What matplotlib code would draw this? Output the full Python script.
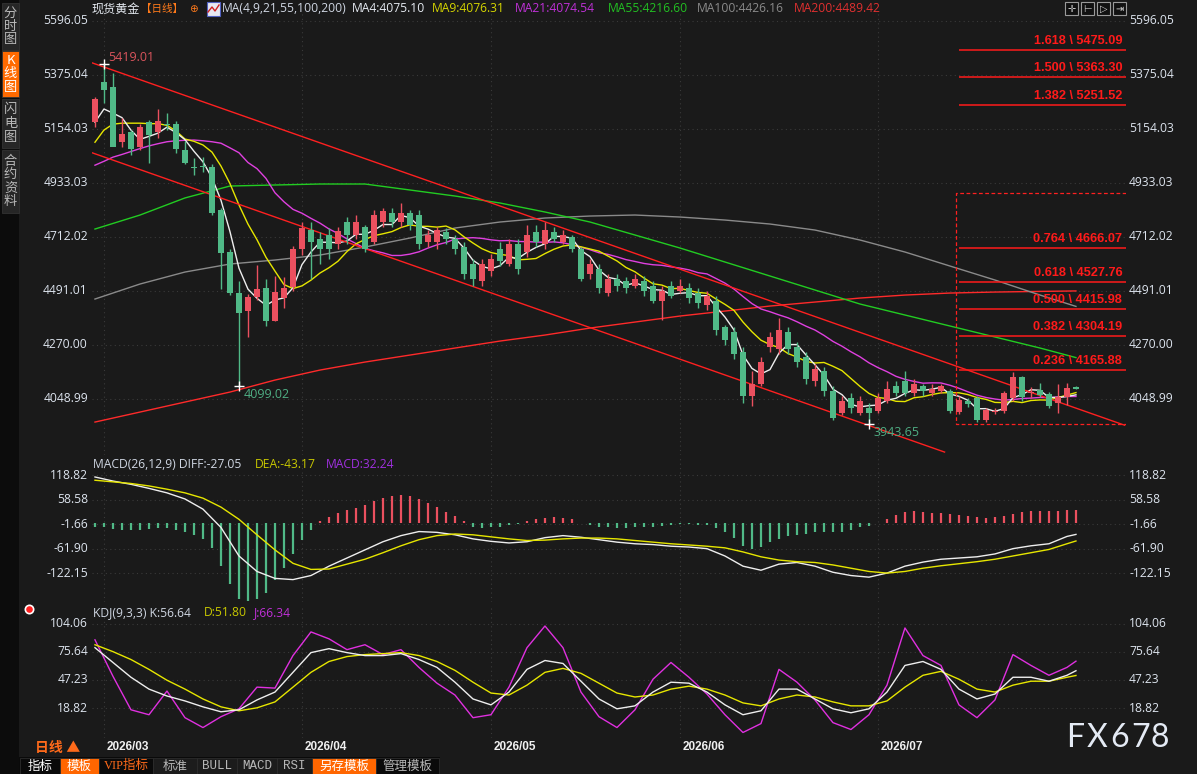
import matplotlib
matplotlib.use('Agg')
import matplotlib.pyplot as plt
import numpy as np
from matplotlib.patches import Rectangle

W, H = 1197, 774
BG = '#1a1a1a'
RED = '#eb505f'
GREEN = '#50b987'
plt.rcParams['font.family'] = ['Open Sans', 'Noto Sans CJK SC', 'DejaVu Sans']
CJK = ['Noto Sans CJK SC', 'DejaVu Sans']

# ---------------- data ----------------
opens = [5180, 5344, 5324, 5099, 5139, 5078, 5180, 5139, 5172, 5172, 5066, 4998, 4998, 4996, 4820, 4649, 4480, 4407, 4464, 4500,
         4365, 4459, 4504, 4663, 4740, 4700, 4720, 4680, 4770, 4720, 4750, 4690, 4770, 4810, 4770, 4810, 4800, 4690, 4690, 4730,
         4700, 4670, 4600, 4530, 4570, 4660, 4600, 4680, 4650, 4730, 4680, 4730, 4690, 4710, 4660, 4560, 4580, 4480, 4540, 4530,
         4510, 4530, 4510, 4450, 4510, 4490, 4500, 4480, 4430, 4450, 4340, 4320, 4240, 4060, 4110, 4260, 4250, 4320, 4260, 4220,
         4120, 4160, 4080, 3990, 4050, 3990, 4010, 4000, 4040, 4100, 4120, 4070, 4100, 4070, 4080, 4080, 3993, 4040, 4052, 3961,
         3993, 3998, 4051, 4137, 4072, 4084, 4068, 4031, 4055, 4095]
highs = [5283, 5419.01, 5380, 5197, 5147, 5172, 5189, 5233, 5217, 5184, 5102, 5033, 5037, 5008, 4830, 4660, 4529, 4476, 4594, 4537,
         4549, 4545, 4672, 4770, 4770, 4730, 4745, 4750, 4790, 4800, 4760, 4820, 4830, 4830, 4850, 4820, 4820, 4740, 4750, 4745,
         4720, 4690, 4620, 4620, 4640, 4690, 4700, 4700, 4760, 4760, 4770, 4750, 4740, 4720, 4670, 4620, 4600, 4560, 4560, 4545,
         4560, 4550, 4530, 4510, 4530, 4540, 4520, 4500, 4490, 4470, 4350, 4340, 4260, 4160, 4220, 4320, 4380, 4340, 4280, 4240,
         4190, 4180, 4100, 4060, 4070, 4060, 4030, 4070, 4120, 4120, 4160, 4130, 4110, 4110, 4110, 4090, 4060, 4050, 4060, 4010,
         4010, 4080, 4157, 4140, 4096, 4113, 4075, 4109, 4113, 4100]
lows = [5160, 5258, 5096, 5078, 5045, 5066, 5012, 5115, 5147, 5053, 5008, 4963, 4975, 4800, 4497, 4472, 4099.02, 4300, 4451, 4345,
        4365, 4418, 4490, 4635, 4540, 4600, 4620, 4660, 4680, 4700, 4650, 4680, 4750, 4750, 4750, 4740, 4660, 4670, 4660, 4680,
        4640, 4540, 4510, 4510, 4550, 4590, 4590, 4560, 4630, 4670, 4660, 4690, 4680, 4650, 4530, 4540, 4480, 4470, 4490, 4480,
        4500, 4470, 4440, 4370, 4460, 4480, 4440, 4420, 4410, 4310, 4270, 4210, 4030, 4020, 4100, 4240, 4230, 4230, 4180, 4110,
        4100, 4060, 3960, 3980, 3990, 3980, 3943.65, 3990, 4030, 4060, 4060, 4060, 4060, 4060, 4070, 3990, 3985, 4015, 3955, 3952,
        3985, 3990, 4040, 4040, 4051, 4055, 4010, 3990, 4022, 4088]
closes = [5275, 5311, 5078, 5131, 5070, 5160, 5127, 5184, 5168, 5070, 5012, 4994, 4996, 4808, 4645, 4480, 4398, 4464, 4496, 4365,
          4484, 4500, 4660, 4745, 4690, 4660, 4660, 4735, 4720, 4770, 4660, 4800, 4815, 4770, 4810, 4760, 4680, 4720, 4740, 4700,
          4660, 4560, 4540, 4600, 4620, 4610, 4680, 4580, 4720, 4690, 4740, 4700, 4720, 4660, 4540, 4600, 4500, 4540, 4510, 4500,
          4540, 4490, 4450, 4490, 4470, 4510, 4460, 4440, 4470, 4330, 4290, 4230, 4060, 4110, 4200, 4300, 4330, 4250, 4200, 4130,
          4170, 4080, 3970, 4040, 4010, 4040, 3990, 4050, 4090, 4070, 4070, 4110, 4080, 4090, 4100, 4000, 4043, 4025, 3961, 4002,
          3998, 4072, 4137, 4055, 4076, 4063, 4020, 4055, 4092, 4090]

ma4_head = [5180, 5234, 5217]
ma9_head = [5098, 5148, 5172, 5176, 5176, 5176, 5174, 5174]
ma21_head = [5004, 5020, 5037, 5048, 5060, 5072, 5083, 5092, 5100, 5104, 5106, 5107, 5104, 5100, 5094, 5075, 5055, 5015, 4990, 4950]

slow_idx = [0, 5, 10, 15, 20, 25, 30, 35, 40, 45, 50, 55, 60, 65, 70, 75, 80, 85, 90, 95, 100, 105, 109]
ma55 = [4742.8, 4800, 4870, 4918.8, 4923, 4927, 4927, 4902.5, 4877.9, 4849.3, 4812.5, 4771.5, 4718.3, 4665.1, 4607.8,
        4550.5, 4493.2, 4435.9, 4390.9, 4345.9, 4300.9, 4255.9, 4216.60]
ma100 = [4456.3, 4517.7, 4566.8, 4599.6, 4615.9, 4636.4, 4669.1, 4706, 4746.9, 4771.5, 4787.8, 4796, 4800.1, 4791.9, 4779.6,
         4763.3, 4738.7, 4697.8, 4648.7, 4591.4, 4534.1, 4472.7, 4426.16]
ma200 = [3952.8, 3993.7, 4034.7, 4075.6, 4124.7, 4165.6, 4198.4, 4227, 4255.7, 4284.3, 4308.9, 4337.5, 4362.1, 4386.7,
         4407.1, 4427.6, 4444, 4460.3, 4472.6, 4480.8, 4484.9, 4487.5, 4489.42]
ma_last = {'MA4': 4075.10, 'MA9': 4076.31, 'MA21': 4074.54, 'MA55': 4216.60, 'MA100': 4426.16, 'MA200': 4489.42}

price_ticks = [5596.05, 5375.04, 5154.03, 4933.03, 4712.02, 4491.01, 4270.00, 4048.99]
macd_ticks = [118.82, 58.58, -1.66, -61.90, -122.15]
kdj_ticks = [104.06, 75.64, 47.23, 18.82]

month_idx = [1, 23, 44, 65, 87]
month_labels = ['2026/03', '2026/04', '2026/05', '2026/06', '2026/07']

fib_ratio = [1.618, 1.500, 1.382, 0.764, 0.618, 0.500, 0.382, 0.236]
fib_price = [5475.09, 5363.30, 5251.52, 4666.07, 4527.76, 4415.98, 4304.19, 4165.88]
fib_box = (95.7, 3943.65, 4889.0)   # start index, low, high
fib_start = 96.0

chan_upper = ([-0.56, 114.4], [5426, 3940])
chan_lower = ([-0.56, 94.4], [5058, 3830])

macd_hist = [-8, -10, -14, -15, -16, -15, -14, -12, -12, -15, -20, -28, -38, -60, -105, -150, -185, -190, -185, -170,
             -140, -110, -75, -40, -15, 5, 15, 25, 32, 38, 45, 55, 62, 68, 70, 68, 60, 50, 40, 28,
             18, 5, -8, -12, -10, -8, -4, -2, 5, 10, 14, 16, 14, 10, 2, -3, -8, -10, -12, -12,
             -10, -10, -8, -6, -4, -2, -2, -3, -5, -12, -22, -35, -55, -62, -58, -45, -38, -32, -28, -25,
             -20, -20, -22, -20, -15, -10, -6, 2, 10, 20, 28, 30, 28, 26, 25, 22, 20, 18, 16, 14,
             15, 18, 24, 28, 30, 30, 30, 31, 32, 32.24]
sub_idx = list(range(0, 110, 2)) + [109]
diff = [114, 104, 96, 86, 75, 60, 35, -10, -80, -118, -135, -138, -128, -105, -85, -65,
        -45, -30, -20, -22, -28, -38, -44, -48, -45, -35, -30, -34, -40, -46, -50, -52,
        -56, -58, -62, -80, -105, -115, -100, -96, -105, -120, -128, -132, -122, -105, -95, -88,
        -85, -82, -75, -62, -55, -50, -32, -27.05]
dea = [106, 102, 98, 92, 84, 75, 62, 40, 10, -28, -65, -98, -113, -112, -100, -88,
       -72, -55, -40, -30, -26, -28, -33, -38, -42, -41, -38, -36, -36, -38, -42, -46,
       -50, -53, -56, -60, -70, -82, -90, -94, -96, -102, -110, -118, -122, -118, -110, -104,
       -99, -94, -88, -80, -72, -64, -50, -43.17]
k_line = [80, 65, 50, 38, 31, 26, 20, 15, 17, 27, 35, 55, 75, 79, 75, 72,
          72, 74, 68, 60, 45, 28, 22, 35, 58, 67, 64, 46, 28, 18, 21, 35,
          45, 44, 35, 22, 12, 16, 38, 38, 28, 18, 14, 18, 35, 62, 66, 58,
          38, 28, 33, 50, 50, 46, 52, 56.64]
d_line = [83, 76, 68, 58, 47, 38, 28, 20, 16, 19, 25, 40, 55, 66, 71, 73,
          74, 75, 72, 66, 57, 45, 34, 32, 42, 55, 59, 54, 44, 34, 30, 32,
          38, 41, 38, 32, 24, 21, 28, 32, 30, 25, 21, 21, 26, 40, 52, 56,
          48, 38, 35, 42, 46, 46, 50, 51.80]
j_line = [88, 51, 17, 12, 36, 9, -1, 10, 18, 40, 39, 72, 96, 89, 78, 83,
          73, 78, 60, 44, 32, 9, 12, 40, 80, 102, 80, 35, 10, -1, 17, 48,
          65, 50, 33, 12, -6, 3, 58, 45, 27, 4, -3, 12, 42, 100, 72, 62,
          22, 9, 27, 73, 62, 52, 60, 66.34]

# ---------------- figure ----------------
fig = plt.figure(figsize=(W / 100, H / 100), dpi=100, facecolor=BG)


def fx(px):
    return px / W


def fy(py):
    return 1 - py / H


X0, X1 = 92, 1126
n = len(closes)
idx = np.arange(n)


def panel(top, bottom):
    ax = fig.add_axes([fx(X0), fy(bottom), fx(X1) - fx(X0), fy(top) - fy(bottom)])
    ax.set_facecolor(BG)
    for s in ax.spines.values():
        s.set_visible(False)
    ax.set_xticks([])
    ax.set_yticks([])
    ax.set_xlim(-0.33, 114.56)
    return ax


axp = panel(12, 455)
axp.set_ylim(3818, 5631)
axm = panel(458, 602)
axm.set_ylim(-193, 160.6)
axk = panel(605, 738)
axk.set_ylim(-11.6, 123.3)

GRID = '#3a3a3a'
LBL = '#dde4ee'
for ax, ticks in [(axp, price_ticks), (axm, macd_ticks), (axk, kdj_ticks)]:
    for t in ticks:
        ax.axhline(t, color=GRID, lw=0.8, ls=(0, (1, 3)), zorder=0)
        ax.text(-0.004, t, f'{t:.2f}', transform=ax.get_yaxis_transform(), ha='right', va='center',
                color=LBL, fontsize=8.7)
        ax.text(1.003, t, f'{t:.2f}', transform=ax.get_yaxis_transform(), ha='left', va='center',
                color=LBL, fontsize=8.7)
    for m in month_idx:
        ax.axvline(m, color=GRID, lw=0.8, ls=(0, (1, 3)), zorder=0)

# ---- moving averages
cl = np.array(closes, dtype=float)


def rolling(vals, period, head):
    out = list(head)
    for i in range(len(head), len(vals)):
        out.append(np.mean(vals[i - period + 1:i + 1]))
    return np.array(out)


ma4 = rolling(cl, 4, ma4_head)
ma9 = rolling(cl, 9, ma9_head)
ma21 = rolling(cl, 21, ma21_head)
axp.plot(slow_idx, ma200, color='#ff2a2a', lw=1, zorder=2)
axp.plot(slow_idx, ma100, color='#8a8a8a', lw=1, zorder=2)
axp.plot(slow_idx, ma55, color='#22cc22', lw=1, zorder=2)
axp.plot(idx, ma21, color='#e040e0', lw=1, zorder=2)
axp.plot(idx, ma9, color='#e6e600', lw=1, zorder=2)
axp.plot(idx, ma4, color='#eeeeee', lw=1, zorder=2)

# ---- candles
o = np.array(opens, float)
h = np.array(highs, float)
lo = np.array(lows, float)
up = cl >= o
cols = np.where(up, RED, GREEN)
axp.vlines(idx, lo, h, colors=cols, lw=1, zorder=3)
axp.bar(idx, np.maximum(np.abs(cl - o), 4), bottom=np.minimum(o, cl), width=0.74, color=cols,
        edgecolor='none', zorder=4)

# ---- channel lines
axp.plot(*chan_upper, color='#ff2020', lw=1, zorder=2)
axp.plot(*chan_lower, color='#ff2020', lw=1, zorder=2)

# ---- extreme labels
hi_i = int(np.argmax(h))
axp.plot(hi_i, h[hi_i], marker='+', color='white', ms=7, mew=1, zorder=6)
axp.annotate(f'{h[hi_i]:.2f}', (hi_i, h[hi_i]), xytext=(4, 6), textcoords='offset pixels',
             color='#d9545c', fontsize=9, va='center', ha='left')
lo_i = int(np.argmin(lo))
lo_j = int(np.argmin(lo[:40]))
for i in (lo_j, lo_i):
    axp.plot(i, lo[i], marker='+', color='white', ms=7, mew=1, zorder=6)
    axp.annotate(f'{lo[i]:.2f}', (i, lo[i]), xytext=(5, -8), textcoords='offset pixels',
                 color='#4fae84', fontsize=9, va='center', ha='left')

# ---- fibonacci
fb_x, fb_lo, fb_hi = fib_box
axp.plot([114.6, fb_x, fb_x, 114.6], [fb_hi, fb_hi, fb_lo, fb_lo], color='#ff2020', lw=0.9,
         ls=(0, (3, 2)), zorder=2)
for r, p in zip(fib_ratio, fib_price):
    axp.hlines(p, fib_start, 114.6, color='#ff1a1a', lw=1.1, zorder=2)
    axp.annotate(f'{r:.3f} \\ {p:.2f}', (114.15, p), xytext=(0, 3), textcoords='offset pixels',
                 color='#ff1a1a', fontsize=9.2, fontweight='bold', ha='right', va='bottom',
                 family='Liberation Sans')

# ---- MACD
hist = np.array(macd_hist, float)
axm.vlines(idx, 0, hist, colors=np.where(hist >= 0, RED, GREEN), lw=1.6, zorder=2)
axm.plot(sub_idx, diff, color='#eeeeee', lw=1, zorder=3)
axm.plot(sub_idx, dea, color='#e6e600', lw=1, zorder=3)

# ---- KDJ
axk.plot(sub_idx, j_line, color='#e030e0', lw=1, zorder=3)
axk.plot(sub_idx, d_line, color='#e6e600', lw=1, zorder=3)
axk.plot(sub_idx, k_line, color='#eeeeee', lw=1, zorder=3)


# ---- legends
def seq(y, items, size=8.7):
    for x, s, c in items:
        fig.text(fx(x), fy(y), s, color=c, fontsize=size, va='center', ha='left')


seq(9, [(92, '现货黄金', '#e6ebf2'), (222, 'MA(4,9,21,55,100,200)', '#cfd6e2'),
        (352, f"MA4:{ma_last['MA4']:.2f}", '#e6ebf2'), (432, f"MA9:{ma_last['MA9']:.2f}", '#d6d600'),
        (515, f"MA21:{ma_last['MA21']:.2f}", '#c030d8'), (608, f"MA55:{ma_last['MA55']:.2f}", '#22c022'),
        (697, f"MA100:{ma_last['MA100']:.2f}", '#8a8a8a'), (794, f"MA200:{ma_last['MA200']:.2f}", '#e03030')])
fig.text(fx(141), fy(9), '【日线】', color='#ff7a1a', fontsize=7.6, va='center', ha='left', family=CJK)
fig.text(fx(193), fy(9.5), '⊕', color='#ff7a1a', fontsize=7.5, va='center', ha='center', family='DejaVu Sans')
fig.patches.append(Rectangle((fx(207), fy(16)), fx(13), 14 / H, transform=fig.transFigure,
                             facecolor='#e8e8f0', edgecolor='#5060c0', lw=0.8))
fig.lines.append(plt.Line2D([fx(208), fx(212), fx(215), fx(219)], [fy(12), fy(7), fy(11), fy(5)],
                            transform=fig.transFigure, color='#d02020', lw=1))
seq(464, [(93, 'MACD(26,12,9) DIFF:-27.05', '#cfd6e2'), (255, 'DEA:-43.17', '#c8c800'),
          (326, 'MACD:32.24', '#a030e0')])
seq(613, [(93, 'KDJ(9,3,3) K:56.64', '#cfd6e2'), (204, 'D:51.80', '#c8c800'), (254, 'J:66.34', '#c030d8')])

# top-right icons
for x in (1065, 1081, 1097, 1113):
    fig.patches.append(Rectangle((fx(x), fy(15)), fx(13), 13 / H, transform=fig.transFigure,
                                 facecolor='#111111', edgecolor='#9a9a9a', lw=0.8))
for x, g in zip((1071.5, 1087.5, 1103.5, 1119.5), ('✛', '⊢', '▷', '⇥')):
    fig.text(fx(x), fy(8.5), g, color='#d0d0d0', fontsize=7, ha='center', va='center', family='DejaVu Sans')

# ---- left sidebar
fig.patches.append(Rectangle((0, 0), fx(19), 1, transform=fig.transFigure, facecolor='#0c0c0c', edgecolor='none'))
side = [('分\n时\n图', 3, 50, '#262626', '#b8b8b8'), ('K\n线\n图', 51, 97, '#ff6a00', '#ffffff'),
        ('闪\n电\n图', 99, 148, '#262626', '#b8b8b8'), ('合\n约\n资\n料', 150, 213, '#262626', '#b8b8b8')]
for s, y0, y1, bgc, fc in side:
    fig.patches.append(Rectangle((fx(2), fy(y1)), fx(17), (y1 - y0) / H, transform=fig.transFigure,
                                 facecolor=bgc, edgecolor='#333333', lw=0.6))
    fig.text(fx(10.5), fy((y0 + y1) / 2), s, color=fc, fontsize=9.5, ha='center', va='center',
             linespacing=1.05, family=CJK)

# red dot icon
fig.lines.append(plt.Line2D([fx(29)], [fy(609)], transform=fig.transFigure, marker='o', ms=6,
                            mfc='#ff2020', mec='white', mew=1.2))

# ---- date strip & toolbar
fig.text(fx(35), fy(748), '日线 ▲', color='#ff6a1a', fontsize=10, fontweight='bold', va='center', ha='left')
for m, lab in zip(month_idx, month_labels):
    axk.text(m + 0.3, -0.068, lab, transform=axk.get_xaxis_transform(), color='#f0f0f0', fontsize=8.5,
             fontweight='bold', family='Liberation Sans', ha='left', va='center')

fig.patches.append(Rectangle((fx(19), 0), fx(440 - 19), 17 / H, transform=fig.transFigure,
                             facecolor='#0a0a0a', edgecolor='none'))
tools = [('指标', 20, 60, '#0a0a0a', '#ffffff', CJK),
         ('模板', 60, 99, '#ff6600', '#ffffff', CJK),
         ('VIP指标', 99, 153, '#0a0a0a', '#ff6a1a', ['Liberation Serif', 'Noto Sans CJK SC']),
         ('标准', 153, 197, '#1c1c1c', '#b8b8b8', CJK),
         ('BULL', 197, 237, '#1c1c1c', '#b8b8b8', ['Liberation Mono']),
         ('MACD', 237, 277, '#1c1c1c', '#b8b8b8', ['Liberation Mono']),
         ('RSI', 277, 312, '#1c1c1c', '#b8b8b8', ['Liberation Mono']),
         ('另存模板', 312, 376, '#ff6600', '#ffffff', CJK),
         ('管理模板', 376, 439, '#0a0a0a', '#b8b8b8', CJK)]
for s, x0, x1, bgc, fc, fam in tools:
    fig.patches.append(Rectangle((fx(x0), fy(774)), fx(x1 - x0), 16 / H, transform=fig.transFigure,
                                 facecolor=bgc, edgecolor='#2c2c2c', lw=0.6))
    fig.text(fx((x0 + x1) / 2), fy(766), s, color=fc, fontsize=9, ha='center', va='center', family=fam)

# watermark, letter-spaced
for ch, x in zip('FX678', (1075, 1097.5, 1120, 1141, 1159.5)):
    fig.text(fx(x), fy(738), ch, color='#e4eaf4', fontsize=23, ha='center', va='center',
             family='Lato', fontweight='normal')

fig.savefig('out.png', dpi=100, facecolor=BG)
